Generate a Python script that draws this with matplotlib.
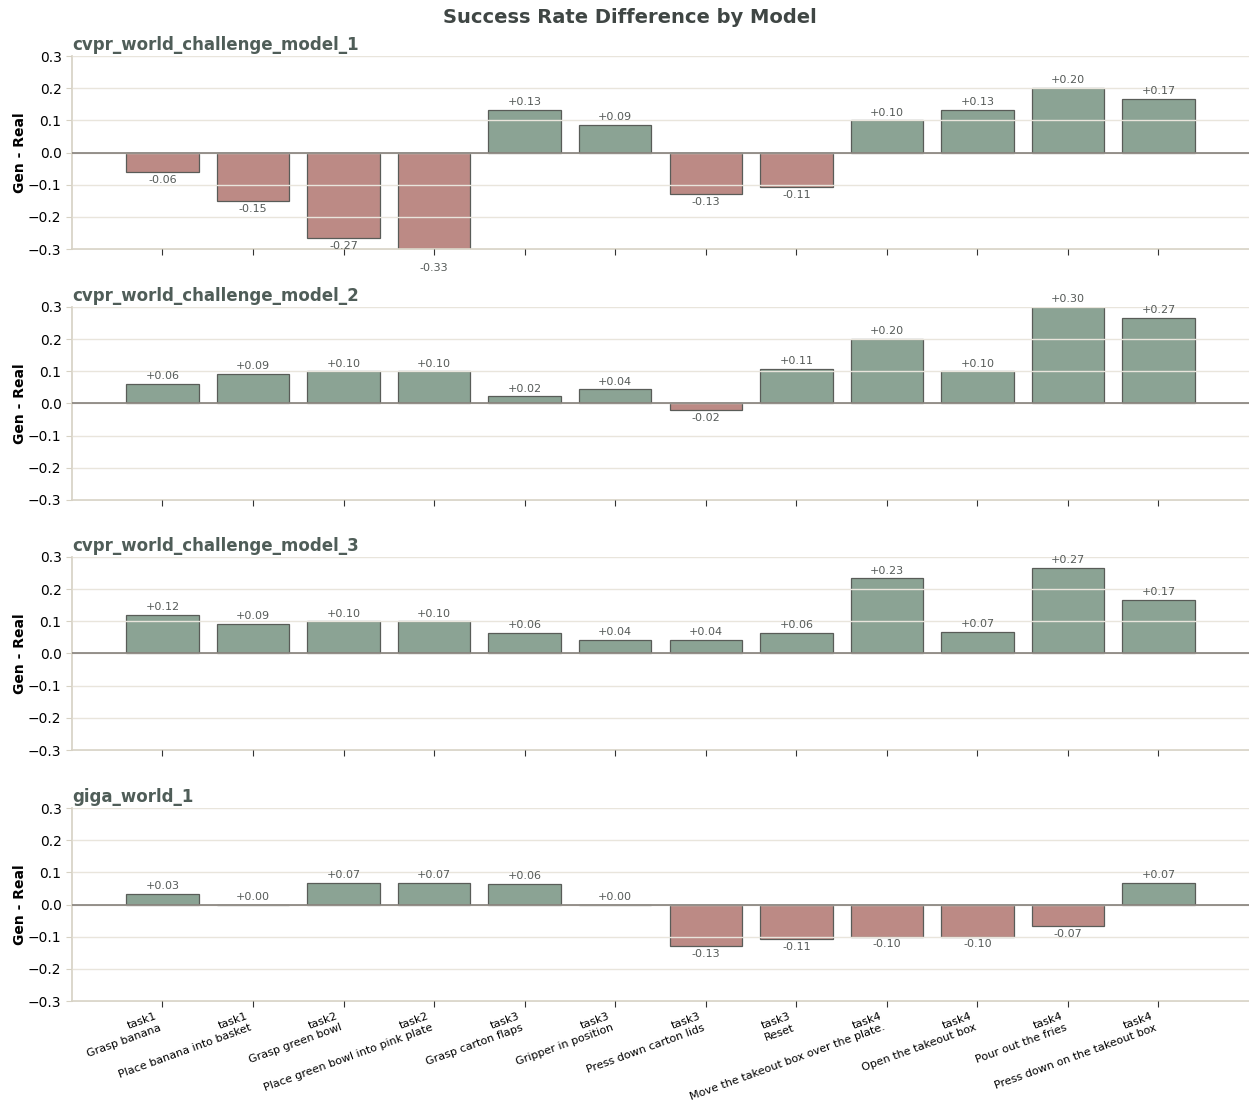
import matplotlib
matplotlib.use("Agg")
import matplotlib.pyplot as plt
import numpy as np

# Task labels (task group + step description)
task_ids = ["task1", "task1", "task2", "task2", "task3", "task3",
            "task3", "task3", "task4", "task4", "task4", "task4"]
task_steps = ["Grasp banana", "Place banana into basket", "Grasp green bowl",
              "Place green bowl into pink plate", "Grasp carton flaps",
              "Gripper in position", "Press down carton lids", "Reset",
              "Move the takeout box over the plate.", "Open the takeout box",
              "Pour out the fries", "Press down on the takeout box"]

model_names = ["cvpr_world_challenge_model_1", "cvpr_world_challenge_model_2",
               "cvpr_world_challenge_model_3", "giga_world_1"]

# Success-rate difference (generated - real) per task step
model_1 = [-0.06, -0.15, -0.2667, -0.3333, 0.1333, 0.0870, -0.1304, -0.1071,
           0.10, 0.1333, 0.20, 0.1667]
model_2 = [0.06, 0.0909, 0.10, 0.10, 0.0217, 0.0435, -0.0217, 0.1071,
           0.20, 0.10, 0.30, 0.2667]
model_3 = [0.12, 0.0909, 0.10, 0.10, 0.0630, 0.0435, 0.0435, 0.0630,
           0.2333, 0.0667, 0.2667, 0.1667]
giga_world_1 = [0.0333, 0.0, 0.0667, 0.0667, 0.0630, 0.0, -0.1304, -0.1071,
                -0.10, -0.10, -0.0667, 0.0667]

all_values = [model_1, model_2, model_3, giga_world_1]

POS_COLOR = "#8ba394"
NEG_COLOR = "#bc8a85"
GRID_COLOR = "#e9e5dc"
SPINE_COLOR = "#d6d1c3"
TITLE_COLOR = "#4f5d58"

fig = plt.figure(figsize=(12.49, 11.01), dpi=100)

left, width, height = 0.0576, 0.9424, 0.1753
bottoms = [0.7738, 0.5459, 0.3188, 0.0908]

x = np.arange(len(task_steps))
xlabels = [f"{t}\n{s}" for t, s in zip(task_ids, task_steps)]

for i, (name, vals) in enumerate(zip(model_names, all_values)):
    ax = fig.add_axes([left, bottoms[i], width, height])
    vals = np.array(vals)
    colors = [POS_COLOR if v >= 0 else NEG_COLOR for v in vals]
    bars = ax.bar(x, vals, width=0.8, color=colors, edgecolor="#595c58",
                  linewidth=0.9, zorder=1)
    ax.set_ylim(-0.3, 0.3)
    ax.set_xlim(-1, 12)
    ax.set_yticks([-0.3, -0.2, -0.1, 0.0, 0.1, 0.2, 0.3])
    ax.grid(axis="y", color=GRID_COLOR, linewidth=1.0, zorder=2)
    ax.set_axisbelow(False)
    ax.axhline(0, color="#85807a", linewidth=1.2, zorder=3)

    for b, v in zip(bars, vals):
        if v >= 0:
            ax.annotate(f"{v:+.2f}", (b.get_x() + b.get_width() / 2, v),
                        xytext=(0, 2), textcoords="offset points",
                        ha="center", va="bottom", fontsize=8,
                        color="#555a58", annotation_clip=False)
        else:
            ax.annotate(f"{v:+.2f}", (b.get_x() + b.get_width() / 2, v),
                        xytext=(0, -2), textcoords="offset points",
                        ha="center", va="top", fontsize=8,
                        color="#555a58", annotation_clip=False)

    for side in ["top", "right"]:
        ax.spines[side].set_visible(False)
    for side in ["left", "bottom"]:
        ax.spines[side].set_color(SPINE_COLOR)
        ax.spines[side].set_linewidth(1.2)
    ax.tick_params(axis="y", labelsize=10, color=SPINE_COLOR, length=4)
    ax.tick_params(axis="x", color="#333333", length=4)

    ax.set_title(name, loc="left", fontsize=12, fontweight="bold",
                 color=TITLE_COLOR, pad=4)
    ax.set_ylabel("Gen - Real", fontsize=10, fontweight="bold", labelpad=1)

    ax.set_xticks(x)
    if i == len(model_names) - 1:
        ax.set_xticklabels(xlabels, rotation=20, ha="right", fontsize=8)
    else:
        ax.set_xticklabels([])

fig.suptitle("Success Rate Difference by Model", fontsize=14,
             fontweight="bold", color="#3f4644", x=0.504, y=0.993, va="top")

fig.savefig("out.png", dpi=100)
